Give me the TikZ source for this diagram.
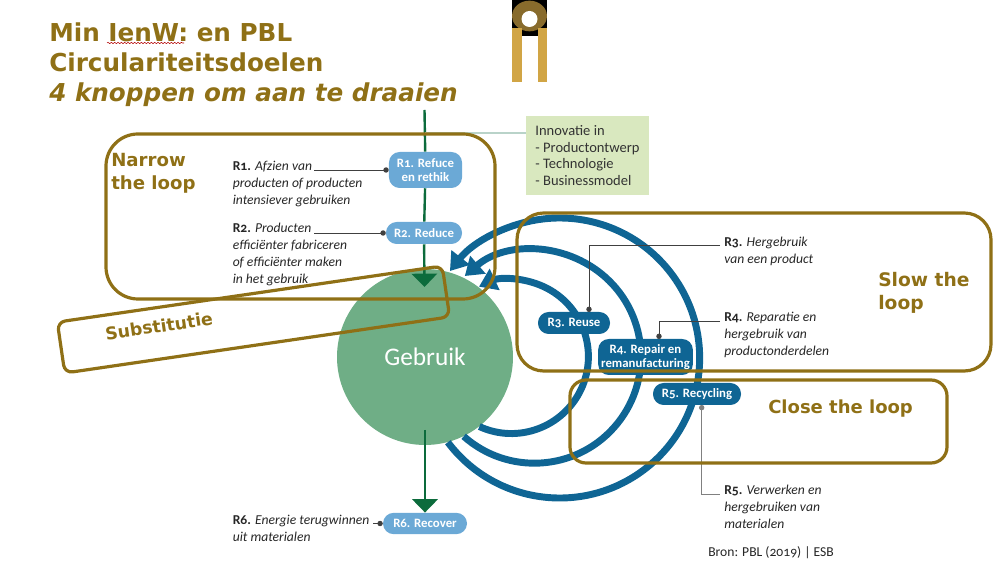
\documentclass[tikz,border=0pt]{standalone}
\usepackage{fontspec}
\usepackage{xcolor}
\usetikzlibrary{arrows.meta,decorations.pathmorphing}
\setmainfont[Numbers=OldStyle]{Carlito}
\newfontfamily\titlefont{DejaVu Sans}
\definecolor{loop-gold}{HTML}{8F7016}
\definecolor{logo-gold}{HTML}{D1A545}
\definecolor{loop-blue}{HTML}{0F6594}
\definecolor{light-blue}{HTML}{6BA9D6}
\definecolor{use-green}{HTML}{6FAE86}
\definecolor{flow-green}{HTML}{0C6B3C}
\definecolor{light-bg}{HTML}{D9E8BF}
\definecolor{inno-line}{HTML}{B9D3C9}
\tikzset{
  goldbox/.style={draw=loop-gold, line width=2.4pt, inner sep=0pt},
  goldtext/.style={text=loop-gold, inner sep=0pt, font=\titlefont\bfseries\fontsize{14}{17.5}\selectfont, align=left},
  lightpill/.style={fill=light-blue, rounded corners=8pt, inner sep=0pt, text=white,
    font=\bfseries\fontsize{9.6}{10.6}\selectfont, align=center},
  darkpill/.style={fill=loop-blue, rounded corners=8pt, inner sep=0pt, text=white,
    font=\bfseries\fontsize{9.6}{10.6}\selectfont, align=center},
  desc/.style={inner sep=0pt, anchor=north west, align=left, text=black!85,
    font=\fontsize{10.2}{12.7}\selectfont},
  leader/.style={draw=black!75, line width=0.7pt},
  loopline/.style={draw=loop-blue, line width=5.2pt, -{Triangle[length=13pt, width=17pt]}},
  flowline/.style={draw=flow-green, line width=1.8pt, -{Triangle[length=10pt, width=19pt]}}
}
\begin{document}
\begin{tikzpicture}[x=0.75pt, y=0.75pt]
    \useasboundingbox (0,0) rectangle (1000,563);
    % logo
    \fill[black] (512,563) rectangle (547,527);
    \fill[logo-gold] (512,481) rectangle (522,535);
    \fill[logo-gold] (538,481) rectangle (547,535);
    \fill[logo-gold, opacity=0.65] (529.5,547) ellipse (13.1pt and 11.5pt);
    \fill[white] (529.5,544) circle (6pt);
    % middle of the figure
    \node[fill=use-green, circle, minimum size=132pt, inner sep=0pt, text=white,
          font=\fontsize{19}{21}\selectfont] (GEBRUIK) at (425,206) {Gebruik};
    \draw[loopline] (GEBRUIK.-52) arc[start angle=245.4, end angle=474.9, radius=57.75pt];
    \draw[loopline] (GEBRUIK.-64.6) arc[start angle=228.4, end angle=490.8, radius=79.9pt];
    \draw[loopline] (GEBRUIK.-75.7) arc[start angle=217, end angle=501.6, radius=105pt];
    % pills
    \node[lightpill, minimum width=54.8pt, minimum height=27pt] (R1) at (425.5,393) {R1. Refuce\\en rethik};
    \node[lightpill, minimum width=57pt, minimum height=16.5pt] (R2) at (424,330) {R2. Reduce};
    \node[lightpill, minimum width=63pt, minimum height=16pt] (R6) at (425,39.5) {R6. Recover};
    \node[darkpill, minimum width=54pt, minimum height=16.5pt] (R3) at (574,240) {R3. Reuse};
    \node[darkpill, minimum width=71pt, minimum height=27pt] (R4) at (645.5,206) {R4. Repair en\\remanufacturing};
    \node[darkpill, minimum width=66pt, minimum height=16.5pt] (R5) at (697,169) {R5. Recycling};
    % green flow
    \coordinate (TOPFLOW) at (424.5,453);
    \coordinate (LOWFLOW) at (425,133);
    \coordinate (INNO) at (424.5,430);
    \coordinate (USETOP) at (424.5,276);
    \draw[flow-green, line width=1.8pt] (TOPFLOW) -- (R1);
    \draw[flow-green, line width=1.8pt] (R1) -- (R2);
    \draw[flowline] (R2) -- (USETOP);
    \draw[flowline] (LOWFLOW) -- (R6.north);
    % texts
    \node[desc] (T1) at (232.5,402) {\textbf{R1.} \textit{Afzien van}\\\textit{producten of producten}\\\textit{intensiever gebruiken}};
    \node[desc] (T2) at (232.5,340) {\textbf{R2.} \textit{Producten}\\\textit{efficiënter fabriceren}\\\textit{of efficiënter maken}\\\textit{in het gebruik}};
    \node[desc] (T3) at (724,326) {\textbf{R3.} \textit{Hergebruik}\\\textit{van een product}};
    \node[desc] (T4) at (724,251) {\textbf{R4.} \textit{Reparatie en}\\\textit{hergebruik van}\\\textit{productonderdelen}};
    \node[desc] (T5) at (724,78) {\textbf{R5.} \textit{Verwerken en}\\\textit{hergebruiken van}\\\textit{materialen}};
    \node[desc] (T6) at (232.5,48) {\textbf{R6.} \textit{Energie terugwinnen}\\\textit{uit materialen}};
    \node[desc, anchor=west] (BRON) at (708,10) {Bron: PBL (2019) | ESB};
    % leaders
    \coordinate (L1) at (314,393);
    \coordinate (L2) at (314,330);
    \coordinate (L3) at (720,317.5);
    \coordinate (L4) at (720,242);
    \coordinate (L5) at (720,69);
    \coordinate (L6) at (373,39.5);
    \draw[leader, -{Circle[length=4pt]}] (L1) -- (R1.west);
    \draw[leader, -{Circle[length=4pt]}] (L2) -- (R2.west);
    \draw[leader, -{Circle[length=4pt]}] (L3) -| (589,251);
    \draw[leader, -{Circle[length=4pt]}] (L4) -| (659,224);
    \draw[leader, {Circle[length=4pt]}-, draw=black!50] (701.7,158) |- (L5);
    \draw[leader, -{Circle[length=4pt]}] (L6) -- (R6.west);
    % innovation
    \node[fill=light-bg, minimum width=92.5pt, minimum height=59pt,
          inner sep=0pt, align=left, text=black!80, font=\fontsize{10.9}{12.5}\selectfont]
          (INNOBOX) at (587.5,407.5) {Innovatie in\\- Productontwerp\\- Technologie\\- Businessmodel};
    \draw[draw=inno-line, line width=0.8pt] (INNO) -- (INNO -| INNOBOX.west);
    % gold frames
    \node[goldbox, rounded corners=24pt, minimum width=291.75pt, minimum height=123.75pt] (NARROW) at (300.5,346.5) {};
    \node[goldbox, rounded corners=20pt, minimum width=355.5pt, minimum height=118.5pt] (SLOW) at (754,271) {};
    \node[goldbox, rounded corners=12pt, minimum width=282.75pt, minimum height=62.25pt] (CLOSE) at (758.5,141.5) {};
    \node[goldbox, rounded corners=6pt, rotate=8.3, minimum width=291.75pt, minimum height=38.6pt] (SUBST) at (253.5,243.5) {};
    % gold labels
    \node[goldtext, anchor=west, font=\titlefont\bfseries\fontsize{13.6}{17.5}\selectfont] (NARROWT) at (111,390) {Narrow\\the loop};
    \node[goldtext, anchor=west] (SLOWT) at (878,270) {Slow the\\loop};
    \node[goldtext, anchor=west, font=\titlefont\bfseries\fontsize{13.5}{17.5}\selectfont] (CLOSET) at (768,154.5) {Close the loop};
    \node[goldtext, anchor=center, rotate=8.5, font=\titlefont\bfseries\fontsize{13}{15}\selectfont] (SUBSTT) at (159,237) {Substitutie};
    \node[goldtext, anchor=north west, font=\titlefont\bfseries\fontsize{18.5}{22.5}\selectfont] (TITLE) at (49,540)
        {Min IenW: en PBL\\Circulariteitsdoelen\\\textit{4 knoppen om aan te draaien}};
    \coordinate (WAVEA) at (107,520);
    \coordinate (WAVEB) at (184,520);
    \draw[red!70!black, line width=0.4pt, decorate, decoration={snake, amplitude=0.5pt, segment length=2.5pt}] (WAVEA) -- (WAVEB);
  \end{tikzpicture}
\end{document}
